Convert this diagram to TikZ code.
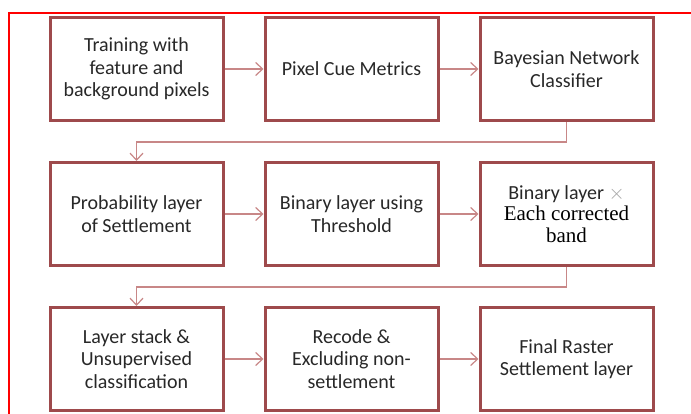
\documentclass[tikz,border=0pt]{standalone}
\usepackage{fontspec}
\setmainfont{Carlito}
\newfontfamily\timesface{Liberation Serif}
\usetikzlibrary{arrows.meta,positioning}
\definecolor{boxred}{RGB}{158,74,76}
\definecolor{linkred}{RGB}{200,135,135}
\definecolor{inkgray}{RGB}{40,40,40}

\tikzset{
  stepbox/.style={draw=boxred, line width=3pt, fill=white, minimum width=173pt,
    minimum height=103pt, align=center, text=inkgray,
    font=\fontsize{20}{22.5}\selectfont},
  link/.style={draw=linkred, line width=1.2pt, -{Straight Barb[length=7pt,width=13pt]}}
}

\begin{document}
\begin{tikzpicture}[x=1pt,y=1pt,node distance=39pt]
\useasboundingbox (0,0) rectangle (691,-414);
% outer frame, only left and top edges fall on the page
\draw[red, line width=2pt] (9,-414) -- (9,-13) -- (691,-13);

% first row
\node[stepbox] (train) at (136.5,-69) {Training with\\feature and\\background pixels};
\node[stepbox, right=of train] (cue) {Pixel Cue Metrics};
\node[stepbox, right=of cue] (bayes) {Bayesian Network\\Classifier};

% second row
\node[stepbox, below=of train] (prob) {Probability layer\\of Settlement};
\node[stepbox, right=of prob] (binary) {Binary layer using\\Threshold};
\node[stepbox, right=of binary] (product) {Binary layer {\color{gray!70}$\times$}\\[-1pt]
  {\timesface\fontsize{21}{21}\selectfont\color{black}Each corrected}\\[-1pt]
  {\timesface\fontsize{21}{21}\selectfont\color{black}band}};

% third row
\node[stepbox, below=of prob] (stack) {Layer stack \&\\Unsupervised\\classification};
\node[stepbox, right=of stack] (recode) {Recode \&\\Excluding non-\\settlement};
\node[stepbox, right=of recode] (final) {Final Raster\\Settlement layer};

% links along each row
\draw[link] (train) -- (cue);
\draw[link] (cue) -- (bayes);
\draw[link] (prob) -- (binary);
\draw[link] (binary) -- (product);
\draw[link] (stack) -- (recode);
\draw[link] (recode) -- (final);

% turns down to the next row
\draw[link] (bayes.south) -- ++(0,-20) -| (prob.north);
\draw[link] (product.south) -- ++(0,-20) -| (stack.north);
\end{tikzpicture}
\end{document}
